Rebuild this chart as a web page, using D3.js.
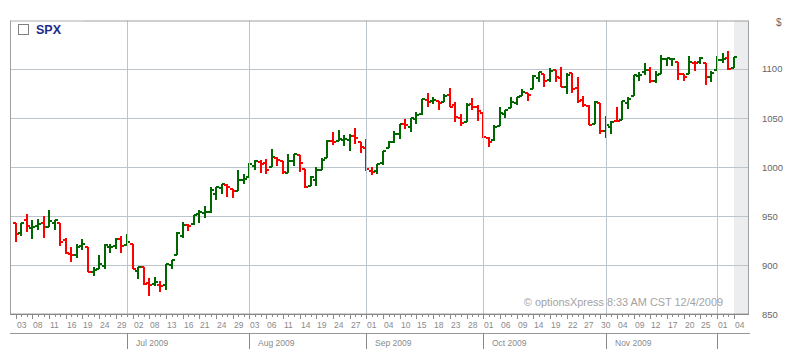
<!DOCTYPE html>
<html><head><meta charset="utf-8">
<script src="https://cdn.jsdelivr.net/npm/d3@7"></script>
<style>html,body{margin:0;padding:0;background:#fff;}svg{display:block;}</style>
</head><body><svg id="c" width="810" height="355"></svg>
<script>
const dates = [
"2009-06-03","2009-06-04","2009-06-05","2009-06-08","2009-06-09","2009-06-10","2009-06-11","2009-06-12","2009-06-15","2009-06-16","2009-06-17","2009-06-18","2009-06-19","2009-06-22","2009-06-23","2009-06-24","2009-06-25","2009-06-26","2009-06-29","2009-06-30",
"2009-07-01","2009-07-02","2009-07-06","2009-07-07","2009-07-08","2009-07-09","2009-07-10","2009-07-13","2009-07-14","2009-07-15","2009-07-16","2009-07-17","2009-07-20","2009-07-21","2009-07-22","2009-07-23","2009-07-24","2009-07-27","2009-07-28","2009-07-29","2009-07-30","2009-07-31",
"2009-08-03","2009-08-04","2009-08-05","2009-08-06","2009-08-07","2009-08-10","2009-08-11","2009-08-12","2009-08-13","2009-08-14","2009-08-17","2009-08-18","2009-08-19","2009-08-20","2009-08-21","2009-08-24","2009-08-25","2009-08-26","2009-08-27","2009-08-28","2009-08-31",
"2009-09-01","2009-09-02","2009-09-03","2009-09-04","2009-09-08","2009-09-09","2009-09-10","2009-09-11","2009-09-14","2009-09-15","2009-09-16","2009-09-17","2009-09-18","2009-09-21","2009-09-22","2009-09-23","2009-09-24","2009-09-25","2009-09-28","2009-09-29","2009-09-30",
"2009-10-01","2009-10-02","2009-10-05","2009-10-06","2009-10-07","2009-10-08","2009-10-09","2009-10-12","2009-10-13","2009-10-14","2009-10-15","2009-10-16","2009-10-19","2009-10-20","2009-10-21","2009-10-22","2009-10-23","2009-10-26","2009-10-27","2009-10-28","2009-10-29","2009-10-30",
"2009-11-02","2009-11-03","2009-11-04","2009-11-05","2009-11-06","2009-11-09","2009-11-10","2009-11-11","2009-11-12","2009-11-13","2009-11-16","2009-11-17","2009-11-18","2009-11-19","2009-11-20","2009-11-23","2009-11-24","2009-11-25","2009-11-27","2009-11-30",
"2009-12-01","2009-12-02","2009-12-03","2009-12-04"];

const open = [942.5,932.5,945.7,938.1,940.4,942.7,939.0,943.4,942.5,925.6,911.9,910.9,920.0,918.1,893.5,896.3,899.5,918.8,919.9,927.2,
920.8,921.2,894.3,898.6,881.9,881.3,880.0,879.6,900.8,910.2,930.2,940.6,942.1,952.0,953.4,954.1,972.2,978.6,981.5,977.7,976.0,986.8,
990.2,1001.4,1005.4,1004.1,999.8,1008.9,1005.8,994.0,1005.9,1012.2,998.2,980.6,986.9,996.4,1009.1,1026.6,1026.6,1027.4,1027.8,1031.6,1025.2,
1019.5,996.1,996.1,1003.8,1018.7,1025.4,1033.0,1043.9,1040.2,1049.0,1054.0,1067.9,1066.6,1067.1,1066.4,1072.7,1062.6,1049.5,1045.4,1063.7,1061.0,
1054.9,1029.7,1026.9,1042.0,1053.7,1060.0,1065.3,1071.6,1075.0,1078.7,1090.4,1094.7,1088.2,1098.6,1090.4,1081.0,1095.6,1080.4,1067.5,1061.5,1043.2,1065.4,
1036.2,1040.9,1047.1,1047.3,1065.0,1072.3,1092.2,1096.0,1098.3,1087.6,1094.1,1109.2,1109.4,1106.4,1094.7,1094.9,1105.8,1106.5,1105.5,1091.1,
1098.9,1109.0,1110.6,1100.4];

const high = [942.5,942.5,951.7,946.3,946.9,949.8,956.2,946.3,942.5,928.0,918.4,921.9,927.1,918.1,898.7,910.9,921.4,922.0,928.0,930.0,
931.9,921.2,898.7,898.6,886.8,887.9,883.6,901.1,905.8,934.0,944.0,941.9,951.6,956.5,959.8,979.4,979.8,982.5,982.4,977.8,996.7,993.2,
1003.6,1007.1,1006.6,1008.0,1018.0,1010.1,1005.8,1012.8,1013.1,1012.6,998.2,991.2,999.6,1008.9,1027.6,1035.8,1037.8,1032.5,1033.3,1039.5,1025.2,
1028.5,1000.3,1003.4,1016.5,1026.1,1036.3,1044.1,1048.2,1049.7,1056.0,1068.8,1074.8,1071.5,1067.3,1073.8,1080.2,1066.3,1053.5,1065.1,1069.6,1063.4,
1054.9,1030.6,1042.6,1060.6,1058.0,1070.7,1071.5,1079.5,1075.3,1093.2,1096.6,1094.7,1100.2,1098.6,1101.4,1095.2,1095.8,1091.8,1072.5,1063.3,1066.8,1065.4,
1052.2,1046.4,1061.0,1066.7,1071.5,1093.2,1096.4,1105.4,1102.0,1097.8,1113.7,1110.5,1111.1,1106.4,1094.7,1112.4,1107.6,1111.2,1105.5,1097.2,
1112.3,1115.6,1117.3,1112.0];

const low = [923.9,929.3,934.1,926.4,936.2,928.0,939.0,935.7,919.7,911.6,903.8,907.9,915.8,893.0,888.9,896.3,896.3,913.0,916.2,912.9,
920.8,896.4,886.4,879.9,869.3,878.5,872.8,875.3,896.5,910.2,927.5,934.7,941.0,943.2,947.8,953.3,966.0,972.3,969.4,968.7,976.0,982.9,
990.2,996.7,994.3,992.5,999.8,1001.0,992.4,993.4,1000.8,994.6,978.5,980.6,980.6,996.4,1009.1,1022.5,1026.2,1021.6,1016.2,1023.1,1014.6,
996.3,992.0,992.3,1001.7,1018.7,1024.0,1028.0,1038.4,1035.0,1043.4,1052.9,1061.2,1064.3,1057.5,1066.4,1060.4,1045.9,1041.2,1045.4,1057.8,1046.5,
1029.5,1020.0,1025.9,1042.0,1050.1,1060.0,1063.0,1071.6,1066.7,1078.7,1086.4,1081.5,1086.5,1086.2,1080.8,1074.3,1075.5,1065.2,1060.6,1042.2,1043.2,1033.4,
1029.4,1033.9,1045.2,1047.3,1059.3,1072.3,1087.4,1093.8,1084.9,1085.3,1094.1,1102.2,1102.7,1088.4,1086.8,1094.9,1097.6,1104.8,1083.7,1086.3,
1098.9,1105.3,1098.7,1100.4];

const close = [931.8,942.5,940.1,939.1,942.4,939.2,944.9,946.2,923.7,912.0,910.7,918.4,921.2,893.0,895.1,900.9,920.3,918.9,927.2,919.3,
923.3,896.4,898.7,881.0,879.6,882.7,879.1,901.1,905.8,932.7,940.7,940.4,951.1,954.6,954.1,976.3,979.3,982.2,979.6,975.2,986.8,987.5,
1002.6,1005.7,1002.7,997.1,1010.5,1007.1,994.4,1005.8,1012.7,1004.1,979.7,989.7,996.5,1007.4,1026.1,1025.6,1028.0,1028.1,1031.0,1028.9,1020.6,
998.0,994.8,1003.2,1016.4,1025.4,1033.4,1044.1,1042.7,1049.3,1052.6,1068.8,1065.5,1068.3,1064.7,1071.7,1060.9,1050.8,1044.4,1063.0,1060.6,1057.1,
1029.9,1025.2,1040.5,1054.7,1057.6,1065.5,1071.5,1076.2,1073.2,1092.0,1096.6,1087.7,1097.9,1091.1,1081.4,1092.9,1079.6,1067.0,1063.4,1042.6,1066.1,1036.2,
1042.9,1045.4,1046.5,1066.6,1069.3,1093.1,1093.0,1098.5,1087.2,1093.5,1109.3,1110.3,1109.8,1094.9,1091.4,1106.2,1105.7,1110.6,1091.5,1095.6,
1108.9,1109.2,1099.9,1111.5];

const priceTicks = [850, 900, 950, 1000, 1050, 1100];
const monthLabels = ["Jul 2009", "Aug 2009", "Sep 2009", "Oct 2009", "Nov 2009", ""];
const symbol = "SPX";
const stamp = "\u00A9 optionsXpress 8:33 AM CST 12/4/2009";

const svg = d3.select("#c");
const L = 10, R = 749, T = 20.5, B = 314.5;
const x = d3.scalePoint().domain(dates).range([15.7, 733.7]);
const y = d3.scaleLinear().domain([850, 1100]).range([314.5, 68.5]);
const px = d => Math.round(x(d));

// shaded latest area
const last = dates[dates.length - 1];
svg.append("rect").attr("x", px(last)).attr("y", T).attr("width", R - px(last)).attr("height", B - T).attr("fill", "#ecedef");

// horizontal grid
svg.append("g").selectAll("line").data(priceTicks.filter(v => v > 850)).join("line")
  .attr("x1", L).attr("x2", R).attr("y1", d => Math.round(y(d)) + 0.5).attr("y2", d => Math.round(y(d)) + 0.5)
  .attr("stroke", "#bcc5cb").attr("stroke-width", 1);

// bars
const bars = dates.map((d, i) => ({d, o: open[i], h: high[i], l: low[i], c: close[i]}));
const g = svg.append("g").attr("shape-rendering", "crispEdges");
g.selectAll("path").data(bars).join("path")
  .attr("d", b => {
    const cx = px(b.d);
    const yh = Math.round(y(b.h)), yl = Math.round(y(b.l));
    const yo = Math.round(y(b.o)), yc = Math.round(y(b.c));
    return `M${cx},${yh}V${Math.max(yl, yh + 2)}` +
           `M${cx - 3},${yo}H${cx}` +
           `M${cx},${yc}H${cx + 3}`;
  })
  .attr("fill", "none")
  .attr("stroke", b => b.c >= b.o ? "#006600" : "#ff0000")
  .attr("stroke-width", 2);

// month starts
const monthStarts = dates.filter((d, i) => i > 0 && d.slice(5, 7) !== dates[i - 1].slice(5, 7));
svg.append("g").selectAll("line").data(monthStarts).join("line")
  .attr("x1", d => px(d) + 0.5).attr("x2", d => px(d) + 0.5).attr("y1", T).attr("y2", B)
  .attr("stroke", "#bcc5cb").attr("stroke-width", 1);

// stamp text
svg.append("text").attr("x", 723).attr("y", 306).attr("text-anchor", "end")
  .attr("font-family", "Liberation Sans, Arial, sans-serif").attr("font-size", 10.9)
  .attr("fill", "#a3a3a3").text(stamp);

// plot border
svg.append("rect").attr("x", L + 0.5).attr("y", T + 0.5).attr("width", R - L - 1).attr("height", B - T - 1)
  .attr("fill", "none").attr("stroke", "#a0a0a0");
svg.append("line").attr("x1", L + 1).attr("x2", 84).attr("y1", T + 0.5).attr("y2", T + 0.5).attr("stroke", "#dcdcdc");

// legend
svg.append("rect").attr("x", 18.5).attr("y", 24.5).attr("width", 10).attr("height", 10)
  .attr("fill", "#fff").attr("stroke", "#808080");
svg.append("text").attr("x", 36).attr("y", 34).attr("font-family", "Liberation Sans, Arial, sans-serif")
  .attr("font-size", 12.5).attr("font-weight", "bold").attr("fill", "#1c2a8a").text(symbol);

// y axis labels
const yAxis = d3.axisRight(y).tickValues(priceTicks).tickSize(0).tickPadding(0).tickFormat(d3.format("d"));
const ya = svg.append("g").attr("transform", "translate(762,0)").call(yAxis);
ya.select(".domain").remove();
ya.selectAll("text").attr("font-family", "Liberation Sans, Arial, sans-serif").attr("font-size", 9.5)
  .attr("fill", "#666").attr("dy", "0.35em");
svg.append("text").attr("x", 776).attr("y", 26).attr("font-family", "Liberation Sans, Arial, sans-serif")
  .attr("font-size", 10).attr("fill", "#666").text("$");

// x axis
const labelDates = dates.filter((d, i) => i % 3 === 0);
const xa = svg.append("g").attr("transform", `translate(0,${B})`);
xa.append("line").attr("x1", L).attr("x2", R).attr("y1", 0).attr("y2", 0).attr("stroke", "#888");
xa.selectAll("line.t").data(dates).join("line").attr("class", "t")
  .attr("x1", d => px(d) + 0.5).attr("x2", d => px(d) + 0.5).attr("y1", 0)
  .attr("y2", (d, i) => i % 3 === 0 ? 4 : 2).attr("stroke", "#888").attr("shape-rendering", "crispEdges");
xa.selectAll("text").data(labelDates).join("text")
  .attr("x", d => px(d) + 1).attr("y", 13.5)
  .attr("font-family", "Liberation Sans, Arial, sans-serif").attr("font-size", 8.5).attr("fill", "#8a8a8a")
  .text(d => d.slice(8, 10));

// month band
svg.append("line").attr("x1", L).attr("x2", R + 1).attr("y1", 333.5).attr("y2", 333.5).attr("stroke", "#999");
svg.append("g").selectAll("line").data(monthStarts).join("line")
  .attr("x1", d => px(d) + 0.5).attr("x2", d => px(d) + 0.5).attr("y1", 333).attr("y2", 349)
  .attr("stroke", "#888");
svg.append("g").selectAll("text").data(monthStarts).join("text")
  .attr("x", d => px(d) + 9).attr("y", 346)
  .attr("font-family", "Liberation Sans, Arial, sans-serif").attr("font-size", 8.5).attr("fill", "#8a8a8a")
  .text((d, i) => monthLabels[i]);
</script></body></html>
